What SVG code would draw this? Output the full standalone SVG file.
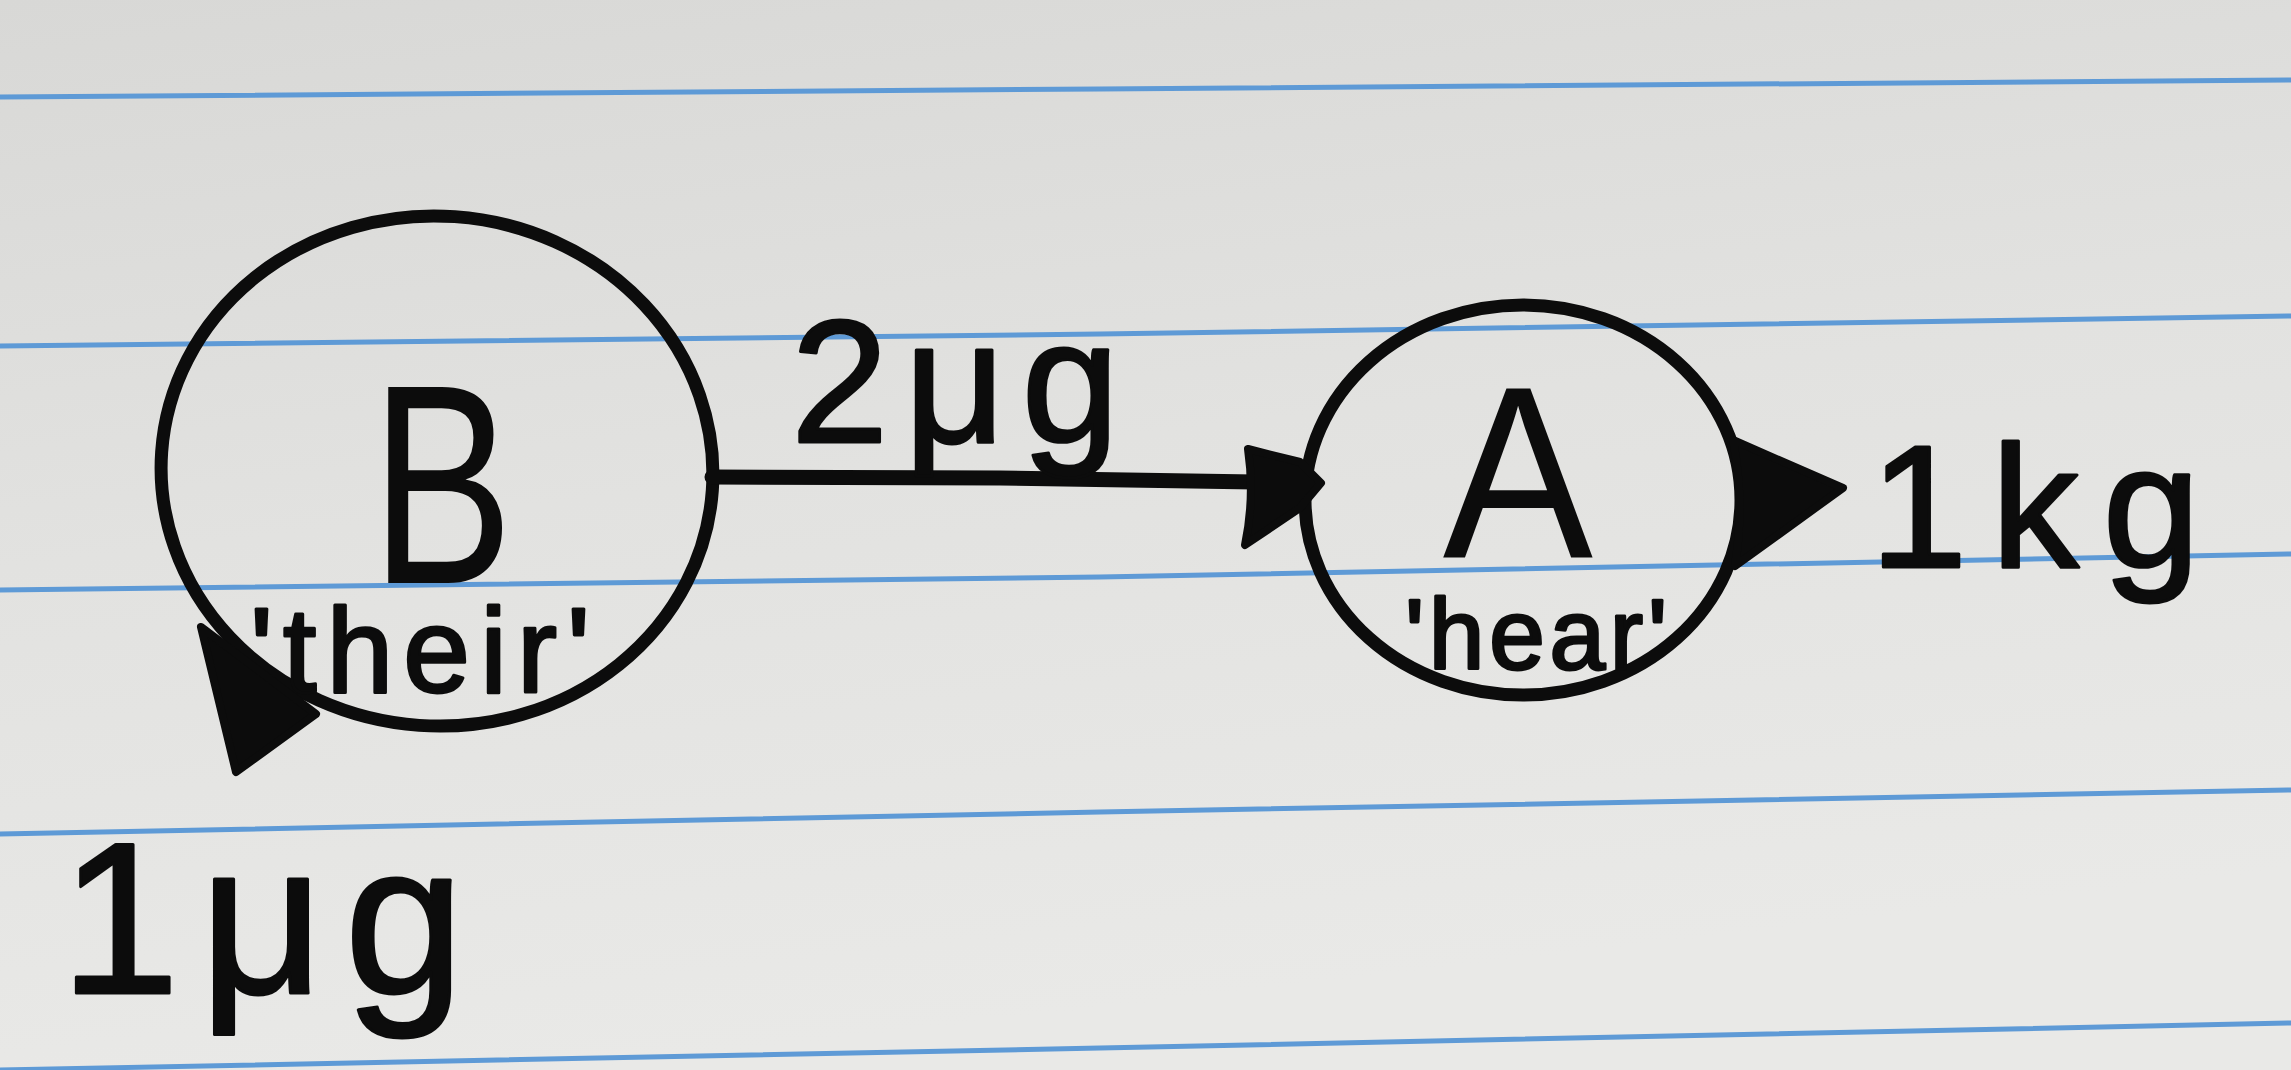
<svg xmlns="http://www.w3.org/2000/svg" width="2291" height="1070" viewBox="0 0 2291 1070">
  <defs>
    <linearGradient id="paper" x1="0" y1="0" x2="0.25" y2="1">
      <stop offset="0" stop-color="#d8d8d6"/>
      <stop offset="0.5" stop-color="#e2e2e0"/>
      <stop offset="1" stop-color="#e9e9e7"/>
    </linearGradient>
  </defs>
  <style>
    .rule { fill: none; stroke: #5e9ad6; stroke-width: 5; stroke-linecap: round; }
    .ink { fill: none; stroke: #0c0c0c; stroke-width: 13; stroke-linecap: round; stroke-linejoin: round; }
    .shaft { fill: none; stroke: #0c0c0c; stroke-width: 15; stroke-linecap: round; }
    .head { fill: #0c0c0c; stroke: #0c0c0c; stroke-width: 8; stroke-linejoin: round; }
    .big { font-family: "Liberation Sans", Arial, sans-serif; fill: #0c0c0c; text-anchor: middle; }
    .hand { font-family: "Liberation Sans", Arial, sans-serif; fill: #0c0c0c; stroke: #0c0c0c; stroke-width: 3; stroke-linejoin: round; }
  </style>

  <!-- paper -->
  <rect x="0" y="0" width="2291" height="1070" fill="url(#paper)"/>
  <g id="ruling">
    <polyline class="rule" points="0,97 1100,89 2291,80"/>
    <polyline class="rule" points="0,346 1100,334 2291,316"/>
    <polyline class="rule" points="0,590 1100,577 2291,554"/>
    <polyline class="rule" points="0,834 1100,812 2291,790"/>
    <polyline class="rule" points="0,1070 1100,1048 2291,1023"/>
  </g>

  <!-- node B -->
  <g id="node-B">
    <ellipse class="ink" cx="437" cy="471" rx="276" ry="255" transform="rotate(4 437 471)"/>
    <text class="big" font-size="285" transform="translate(442,583) scale(0.75,1)">B</text>
    <text class="hand" x="250" y="692" font-size="120" textLength="340" lengthAdjust="spacing">'their'</text>
  </g>

  <!-- node A -->
  <g id="node-A">
    <ellipse class="ink" cx="1523" cy="500" rx="218" ry="195"/>
    <text class="big" font-size="245" transform="translate(1518,557) scale(0.92,1)">A</text>
    <text class="hand" x="1405" y="669" font-size="100" textLength="262" lengthAdjust="spacing">'hear'</text>
  </g>

  <!-- connectors -->
  <g id="connectors">
    <!-- B -> A -->
    <path class="shaft" d="M712,477 L1000,478 L1255,482"/>
    <path class="head" d="M1248,449 L1300,462 L1321,483 L1300,508 L1245,545 Q1255,497 1248,449 Z"/>
    <text class="hand" x="791" y="442" font-size="175" textLength="328" lengthAdjust="spacing">2μg</text>

    <!-- A -> out -->
    <path class="head" d="M1733,440 L1843,488 L1735,566 Q1745,503 1733,440 Z"/>
    <text class="hand" x="1870" y="567" font-size="175" textLength="330" lengthAdjust="spacing">1kg</text>

    <!-- B -> out -->
    <path class="head" d="M201,627 L316,714 L236,772 Z"/>
    <text class="hand" x="60" y="993" font-size="215" textLength="404" lengthAdjust="spacing">1μg</text>
  </g>
</svg>
